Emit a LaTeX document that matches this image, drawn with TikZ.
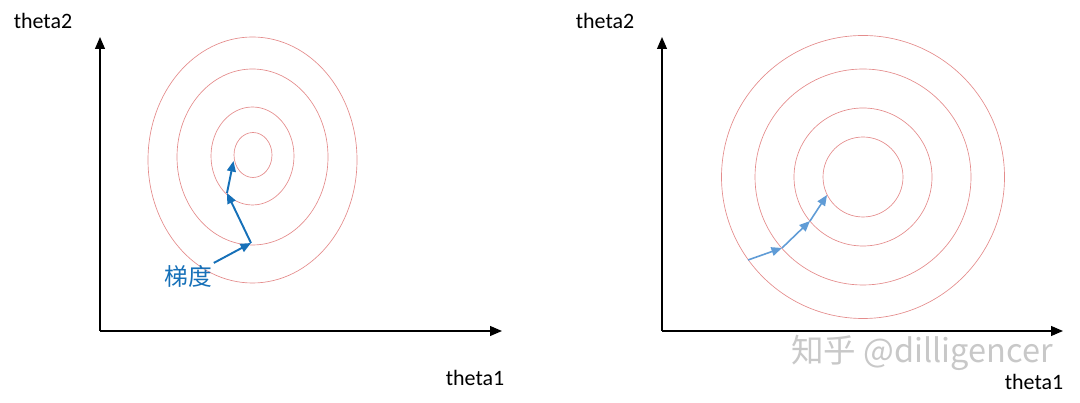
\documentclass[tikz,border=0pt]{standalone}
\usepackage{fontspec}
\setmainfont{Carlito}
\newfontfamily\cjk{Noto Sans CJK SC}
\usepackage{tikz}
\usetikzlibrary{arrows.meta}

\definecolor{ringred}{RGB}{228,140,140}
\definecolor{stepblue}{RGB}{22,112,184}
\definecolor{steplight}{RGB}{96,156,214}
\definecolor{markgray}{RGB}{200,200,200}

\tikzset{
  axis/.style={line width=0.85pt, black, -{Triangle[length=6.8pt,width=5.6pt]}},
  ring/.style={ringred, line width=0.38pt},
  gradstep/.style={line width=1.1pt, -{Triangle[length=6pt,width=5pt]}},
  axlabel/.style={font=\fontsize{12.5}{14}\selectfont, inner sep=0pt}
}

\begin{document}
\begin{tikzpicture}
\useasboundingbox (0,0) rectangle (21.6,8.06);

% left: elongated contours
\coordinate (o1) at (2.0,1.44);
\coordinate (y1) at (2.0,7.32);
\coordinate (x1) at (10.04,1.44);
\node[axlabel] (t2a) at (0.86,7.64) {theta2};
\node[axlabel] (t1a) at (9.50,0.50) {theta1};
\draw[axis] (o1) -- (y1);
\draw[axis] (o1) -- (x1);

\draw[ring] (5.06,4.96) ellipse (0.38 and 0.45);
\draw[ring] (5.05,4.94) ellipse (0.83 and 0.98);
\draw[ring] (5.05,4.92) ellipse (1.51 and 1.76);
\draw[ring] (5.05,4.86) ellipse (2.09 and 2.46);

\node[stepblue, inner sep=1pt, font=\cjk\fontsize{13.5}{15}\selectfont] (grad) at (3.76,2.54) {梯度};
\coordinate (g1) at (5.02,3.20);
\coordinate (g2) at (4.54,4.20);
\coordinate (g3) at (4.67,4.84);
\draw[gradstep, stepblue] (grad.north east) -- (g1);
\draw[gradstep, stepblue] (g1) -- (g2);
\draw[gradstep, stepblue] (g2) -- (g3);

% right: round contours
\coordinate (o2) at (13.24,1.44);
\coordinate (y2) at (13.24,7.32);
\coordinate (x2) at (21.26,1.44);
\node[axlabel] (t2b) at (12.10,7.64) {theta2};
\node[axlabel] (t1b) at (20.68,0.42) {theta1};
\draw[axis] (o2) -- (y2);
\draw[axis] (o2) -- (x2);

\foreach \r in {0.80,1.38,2.16,2.83}
  \draw[ring] (17.26,4.52) circle (\r);

\coordinate (h0) at (14.96,2.86);
\coordinate (h1) at (15.64,3.10);
\coordinate (h2) at (16.20,3.64);
\coordinate (h3) at (16.54,4.16);
\draw[gradstep, steplight, line width=0.9pt] (h0) -- (h1);
\draw[gradstep, steplight, line width=0.9pt] (h1) -- (h2);
\draw[gradstep, steplight, line width=0.9pt] (h2) -- (h3);

\node[markgray, inner sep=0pt, font=\cjk\fontsize{18.5}{20}\selectfont] (mark) at (18.44,1.00) {知乎 @dilligencer};
\end{tikzpicture}
\end{document}
